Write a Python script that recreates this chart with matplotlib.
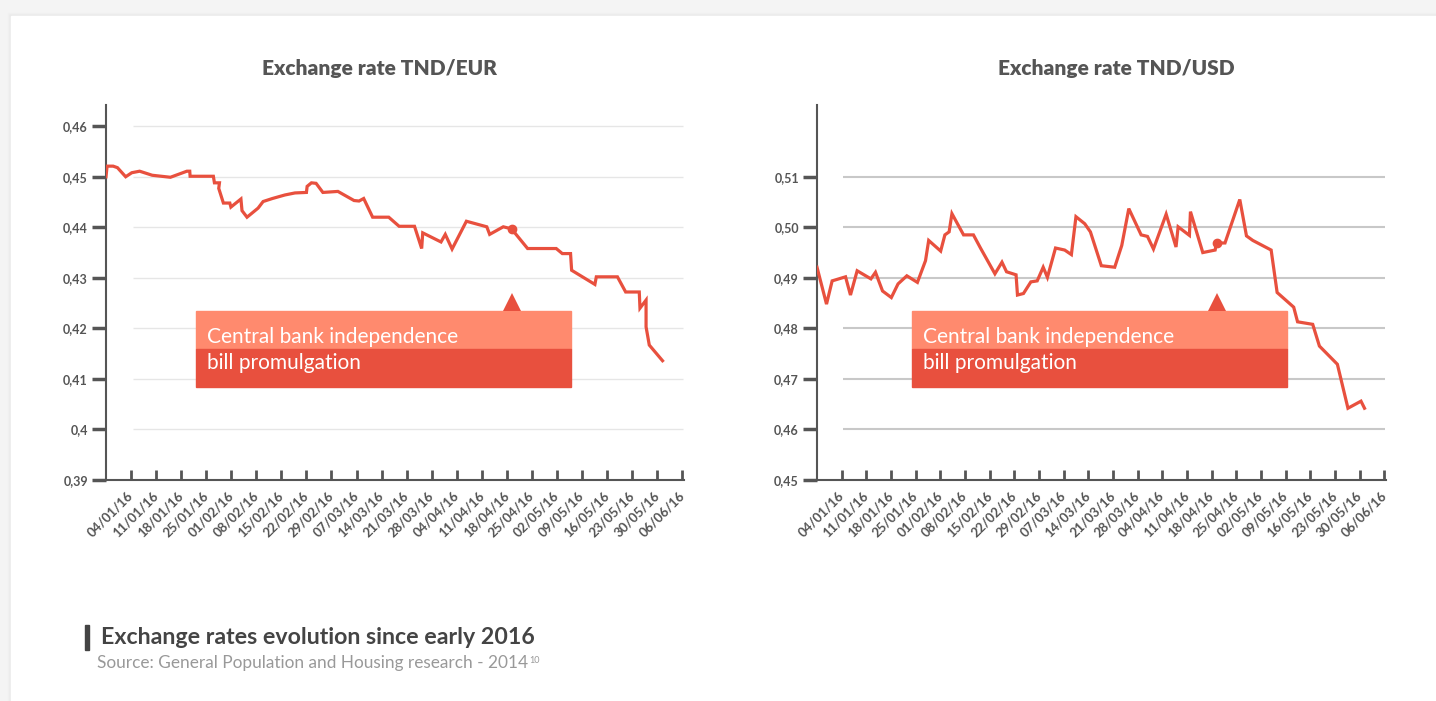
import matplotlib.pyplot as plt
import matplotlib.transforms as mtransforms
from matplotlib.patches import Rectangle
import numpy as np
import pandas as pd

# x values are days counted from 28/12/2015
origin = pd.Timestamp('2015-12-28')

tick_labels = ['04/01/16', '11/01/16', '18/01/16', '25/01/16', '01/02/16', '08/02/16',
               '15/02/16', '22/02/16', '29/02/16', '07/03/16', '14/03/16', '21/03/16',
               '28/03/16', '04/04/16', '11/04/16', '18/04/16', '25/04/16', '02/05/16',
               '09/05/16', '16/05/16', '23/05/16', '30/05/16', '06/06/16']

eur_days = [0, 0.3, 2, 3.2, 5.5, 7.2, 9.4, 12.9, 18, 20.3, 22.6, 23.4, 23.5, 30, 30.3,
            31.7, 31.5, 32.8, 34.6, 34.9, 37.7, 38, 39.4, 42.5, 43.9, 46.5, 50, 52.8,
            56, 56.2, 57.4, 58.7, 60.6, 64.8, 69.3, 70.7, 72, 74.5, 79, 81.9, 86.2,
            88.2, 88.5, 93.6, 94.8, 96.7, 100.7, 106.4, 107.2, 111, 113.3, 117.8,
            125.8, 127.5, 129.8, 130.1, 136.6, 137, 142.9, 145.2, 149.0, 149.2,
            150.9, 150.9, 151.8, 155.5]
eur_rate = [0.4500, 0.4521, 0.4521, 0.4518, 0.4500, 0.4508, 0.4511, 0.4503, 0.4499,
            0.4505, 0.4511, 0.4511, 0.4501, 0.4501, 0.4488, 0.4488, 0.4477, 0.4448,
            0.4448, 0.4440, 0.4456, 0.4433, 0.4420, 0.4438, 0.4451, 0.4457, 0.4464,
            0.4468, 0.4469, 0.4481, 0.4488, 0.4487, 0.4469, 0.4471, 0.4453, 0.4452,
            0.4457, 0.4420, 0.4420, 0.4402, 0.4402, 0.4358, 0.4389, 0.4371, 0.4386,
            0.4357, 0.4412, 0.4401, 0.4386, 0.4401, 0.4397, 0.4358, 0.4358, 0.4348,
            0.4348, 0.4315, 0.4287, 0.4302, 0.4302, 0.4272, 0.4272, 0.4240, 0.4256,
            0.4203, 0.4167, 0.4136]

usd_days = [0, 2.7, 4.3, 8.1, 9.5, 11.4, 15.3, 16.6, 18.6, 21.1, 23, 25.5, 28.5, 30.8,
            31.7, 35.1, 36.3, 37.5, 38.3, 41.6, 44.4, 46.4, 50.5, 52.5, 53.8, 56.5,
            56.9, 58.6, 60.7, 62.5, 64.2, 65.4, 67.7, 70.3, 72.2, 73.5, 76, 77.6,
            80.7, 84.5, 86.5, 88.5, 92, 93.8, 95.5, 99.1, 101.9, 102.5, 105.7, 106,
            109.5, 113, 113.4, 115.8, 120, 121.9, 123.7, 128.9, 130.6, 135.3, 136.4,
            140.7, 142.6, 147.7, 150.7, 154.4, 155.4]
usd_rate = [0.4921, 0.4848, 0.4894, 0.4902, 0.4866, 0.4914, 0.4898, 0.4911, 0.4874,
            0.4861, 0.4888, 0.4904, 0.4891, 0.4934, 0.4974, 0.4953, 0.4985, 0.4991,
            0.5027, 0.4985, 0.4985, 0.4959, 0.4908, 0.4931, 0.4912, 0.4906, 0.4866,
            0.4869, 0.4892, 0.4894, 0.4921, 0.4901, 0.4959, 0.4955, 0.4946, 0.5021,
            0.5007, 0.4991, 0.4924, 0.4921, 0.4964, 0.5037, 0.4985, 0.4982, 0.4957,
            0.5026, 0.4961, 0.5001, 0.4984, 0.5031, 0.4950, 0.4955, 0.4969, 0.4969,
            0.5055, 0.4983, 0.4974, 0.4955, 0.4871, 0.4842, 0.4813, 0.4808, 0.4765,
            0.4729, 0.4642, 0.4656, 0.4642]

eur_yticks = [0.39, 0.40, 0.41, 0.42, 0.43, 0.44, 0.45, 0.46]
eur_ylabels = ['0,39', '0,4', '0,41', '0,42', '0,43', '0,44', '0,45', '0,46']
usd_yticks = [0.45, 0.46, 0.47, 0.48, 0.49, 0.50, 0.51]
usd_ylabels = ['0,45', '0,46', '0,47', '0,48', '0,49', '0,50', '0,51']
event_day = 113.4  # central bank law promulgation marker

RED = '#e8503e'
SALMON = '#ff8a6e'
DARK = '#555555'
FONT = ['Lato', 'DejaVu Sans']

plt.rcParams['font.family'] = FONT

W, H = 1436, 701
fig = plt.figure(figsize=(W / 100, H / 100), dpi=100, facecolor='#f4f4f4')

# white card with a soft shadow edge
for i, a in enumerate([0.12, 0.2, 0.32]):
    fig.patches.append(Rectangle(((8 + i) / W, 0), 1, (H - 13 - i) / H,
                                 transform=fig.transFigure, color='#e6e6e6',
                                 alpha=a, zorder=-10))
fig.patches.append(Rectangle((11 / W, 0), 1, (H - 16) / H, transform=fig.transFigure,
                             color='white', zorder=-9))


def px_box(x0, x1, y_top, y_bot):
    return [x0 / W, 1 - y_bot / H, (x1 - x0) / W, (y_bot - y_top) / H]


def draw_panel(box, days, rate, yticks, ylabels, ylim, grid_color, grid_lw, title,
               title_x, label_box):
    ax = fig.add_axes(box)
    ax.set_facecolor('none')
    ax.plot(days, rate, color=RED, lw=2.3, solid_joinstyle='miter', zorder=3)

    # event marker on the line
    ev_val = np.interp(event_day, days, rate)
    ax.plot([event_day], [ev_val], 'o', color=RED, ms=6, zorder=4)

    ax.set_xlim(0, 161.5)
    ax.set_ylim(*ylim)

    ax.hlines(yticks[1:], 7.5, 161.2, color=grid_color, lw=grid_lw, zorder=1)

    ax.set_yticks(yticks)
    ax.set_yticklabels(ylabels)
    xpos = [(pd.to_datetime(t, format='%d/%m/%y') - origin).days for t in tick_labels]
    ax.set_xticks(xpos)
    ax.set_xticklabels(tick_labels, rotation=45, ha='right', va='center',
                       rotation_mode='anchor')

    ax.tick_params(axis='y', direction='out', length=10, width=2.5, color=DARK,
                   labelsize=9, labelcolor=DARK, pad=3)
    ax.tick_params(axis='x', direction='in', length=7, width=2, color=DARK,
                   labelsize=9.5, labelcolor=DARK, pad=10)
    for lab in ax.get_xticklabels() + ax.get_yticklabels():
        lab.set_fontweight('bold')

    for s in ['top', 'right']:
        ax.spines[s].set_visible(False)
    for s in ['left', 'bottom']:
        ax.spines[s].set_color(DARK)
        ax.spines[s].set_linewidth(1.5)

    # annotation banner
    x0, x1 = label_box
    trans = ax.transAxes
    ax.add_patch(Rectangle((x0, 0.349), x1 - x0, 0.102, transform=trans,
                           color=SALMON, zorder=5, clip_on=False))
    ax.add_patch(Rectangle((x0, 0.248), x1 - x0, 0.101, transform=trans,
                           color=RED, zorder=5, clip_on=False))
    blend = mtransforms.blended_transform_factory(ax.transData, ax.transAxes)
    ax.plot([event_day], [0.474], marker='^', color=RED, ms=13, mew=0,
            transform=blend, clip_on=False, zorder=5)
    ax.text(x0 + 0.019, 0.381, 'Central bank independence', transform=trans,
            color='white', fontsize=15, va='center', zorder=6)
    ax.text(x0 + 0.019, 0.313, 'bill promulgation', transform=trans,
            color='white', fontsize=15, va='center', zorder=6)

    fig.text(title_x / W, 1 - 69 / H, title, ha='center', va='center',
             fontsize=15, fontweight='heavy', color=DARK)
    return ax


draw_panel(px_box(106, 684, 105, 480), eur_days, eur_rate, eur_yticks, eur_ylabels,
           (0.39, 0.4642), '#e6e6e6', 1.0, 'Exchange rate TND/EUR', 379,
           ((196 - 106) / 578, (571 - 106) / 578))
draw_panel(px_box(817, 1386, 105, 480), usd_days, usd_rate, usd_yticks, usd_ylabels,
           (0.45, 0.5242), '#c8c8c8', 1.5, 'Exchange rate TND/USD', 1116,
           ((912 - 817) / 569, (1287 - 817) / 569))

# footer
fig.patches.append(Rectangle((85 / W, 1 - 650 / H), 4 / W, 25 / H,
                             transform=fig.transFigure, color='#444444'))
fig.text(101 / W, 1 - 637 / H, 'Exchange rates evolution since early 2016',
         fontsize=16.7, fontweight='bold', color='#444444', va='center', ha='left')
src = fig.text(97 / W, 1 - 663 / H, 'Source: General Population and Housing research - 2014',
               fontsize=12.4, color='#999999', va='center', ha='left')
bb = src.get_window_extent(renderer=fig.canvas.get_renderer())
fig.text((bb.x1 + 1) / W, 1 - 656 / H, '10', fontsize=6.5, color='#999999',
         va='top', ha='left')

fig.savefig('out.png', dpi=100, facecolor=fig.get_facecolor())
